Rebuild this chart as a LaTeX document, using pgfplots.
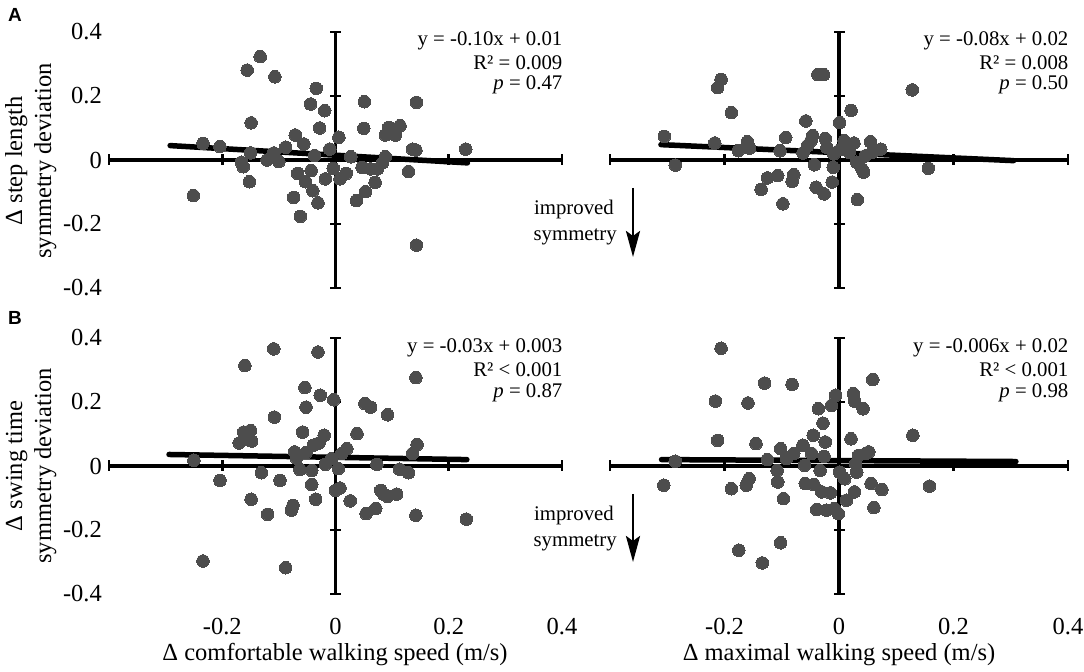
\documentclass[border=0pt]{standalone}
\usepackage{pgfplots}
\pgfplotsset{compat=1.18}
\usepackage{fontspec}
\setmainfont{Liberation Serif}
\newfontfamily\panelfont{Liberation Sans}
\usetikzlibrary{arrows.meta}
\definecolor{dotgray}{RGB}{77,77,77}
\newcommand{\ticksize}{\fontsize{24.5bp}{28bp}\selectfont}
\newcommand{\labsize}{\fontsize{24.5bp}{28bp}\selectfont}
\newcommand{\annsize}{\fontsize{20.8bp}{24bp}\selectfont}

\pgfplotstableread{
x y
-0.251 -0.111
-0.234 0.052
-0.204 0.042
-0.166 -0.007
-0.163 -0.021
-0.156 0.281
-0.152 -0.068
-0.150 0.022
-0.149 0.116
-0.133 0.323
-0.121 0.000
-0.109 0.022
-0.107 0.260
-0.100 -0.005
-0.088 0.040
-0.074 -0.117
-0.071 0.078
-0.067 -0.042
-0.062 -0.176
-0.056 0.050
-0.053 -0.068
-0.044 0.175
-0.043 -0.033
-0.040 -0.096
-0.037 0.014
-0.034 0.224
-0.031 -0.134
-0.028 0.100
-0.019 0.154
-0.018 -0.059
-0.010 0.034
-0.004 -0.026
0.006 0.071
0.008 -0.059
0.019 -0.042
0.027 0.010
0.037 -0.127
0.047 -0.023
0.050 0.099
0.051 0.182
0.053 -0.099
0.062 -0.028
0.070 -0.070
0.074 -0.028
0.083 -0.009
0.088 0.010
0.088 0.078
0.094 0.102
0.106 0.078
0.114 0.107
0.129 -0.036
0.136 0.034
0.142 0.031
0.143 0.180
0.143 -0.266
0.230 0.034
}\dataTL

\pgfplotstableread{
x y
-0.305 0.074
-0.286 -0.016
-0.217 0.053
-0.212 0.226
-0.206 0.252
-0.188 0.148
-0.176 0.029
-0.160 0.057
-0.156 0.037
-0.136 -0.092
-0.125 -0.056
-0.107 -0.049
-0.103 0.029
-0.098 -0.137
-0.093 0.070
-0.082 -0.067
-0.079 -0.046
-0.063 0.022
-0.058 0.122
-0.055 0.045
-0.049 0.060
-0.046 0.076
-0.043 -0.015
-0.040 -0.085
-0.037 0.267
-0.027 0.267
-0.026 -0.106
-0.024 0.067
-0.021 0.039
-0.012 -0.069
-0.010 -0.023
-0.009 0.019
0.001 0.117
0.003 0.034
0.009 0.060
0.010 0.040
0.018 0.024
0.021 0.155
0.026 0.053
0.031 -0.007
0.032 -0.124
0.040 -0.028
0.043 -0.038
0.046 0.013
0.055 0.057
0.058 0.024
0.073 0.034
0.128 0.219
0.156 -0.026
}\dataTR

\pgfplotstableread{
x y
-0.250 0.018
-0.234 -0.297
-0.204 -0.045
-0.170 0.072
-0.162 0.106
-0.160 0.314
-0.157 0.096
-0.150 0.111
-0.149 -0.104
-0.148 0.078
-0.131 -0.021
-0.120 -0.151
-0.109 0.366
-0.108 0.153
-0.098 -0.045
-0.088 -0.318
-0.078 -0.138
-0.075 -0.123
-0.072 0.044
-0.069 0.025
-0.063 -0.011
-0.058 0.106
-0.054 0.245
-0.052 0.184
-0.052 0.042
-0.042 -0.058
-0.042 -0.014
-0.039 0.065
-0.035 -0.104
-0.031 0.356
-0.029 0.072
-0.027 0.221
-0.020 0.096
-0.018 0.005
-0.007 0.023
-0.003 0.207
0.000 -0.076
0.005 -0.008
0.008 -0.069
0.011 0.039
0.020 0.054
0.026 -0.109
0.038 0.101
0.052 0.195
0.054 -0.149
0.062 0.184
0.071 -0.133
0.073 0.005
0.080 -0.076
0.085 -0.088
0.092 0.160
0.092 -0.095
0.108 -0.088
0.113 -0.010
0.129 -0.021
0.136 0.039
0.142 0.276
0.142 -0.154
0.144 0.067
0.231 -0.166
}\dataBL

\pgfplotstableread{
x y
-0.306 -0.060
-0.286 0.015
-0.216 0.203
-0.212 0.080
-0.206 0.368
-0.188 -0.071
-0.175 -0.263
-0.162 -0.060
-0.159 0.197
-0.157 -0.040
-0.145 0.070
-0.134 -0.303
-0.130 0.259
-0.125 0.020
-0.108 -0.014
-0.107 -0.050
-0.102 0.054
-0.102 -0.240
-0.097 -0.102
-0.092 0.023
-0.082 0.255
-0.079 0.039
-0.063 0.065
-0.060 0.002
-0.059 -0.055
-0.048 0.039
-0.045 0.096
-0.044 -0.058
-0.039 -0.136
-0.036 0.179
-0.033 -0.014
-0.030 -0.081
-0.028 0.134
-0.026 0.030
-0.024 0.075
-0.022 -0.138
-0.015 -0.084
-0.013 0.189
-0.008 -0.133
-0.006 0.221
-0.001 -0.149
0.001 -0.019
0.010 -0.040
0.013 -0.107
0.021 0.085
0.025 0.226
0.027 0.203
0.027 -0.081
0.029 0.007
0.031 -0.019
0.034 0.033
0.042 0.179
0.047 0.039
0.052 0.044
0.056 -0.055
0.059 0.270
0.061 -0.130
0.075 -0.074
0.129 0.096
0.158 -0.063
}\dataBR

\tikzset{ann/.style={anchor=base east, inner sep=0pt, font=\annsize}}
\pgfplotsset{
  panel/.style={
    scale only axis, height=256bp,
    xmin=-0.4, xmax=0.4, ymin=-0.4, ymax=0.4,
    enlargelimits=false, clip=false,
    axis lines=left, axis line style={draw=none},
    major tick length=0pt, tick style={draw=none},
    tick label style={font=\ticksize},
    xticklabel style={anchor=north, inner sep=0pt, yshift=-24bp},
    yticklabel style={anchor=east, inner sep=0pt, xshift=-7bp},
    anchor=south west,
  },
  crossaxes/.style={black, line width=3.2bp, mark size=5.5bp, mark options={solid, line width=2.8bp}},
  dots/.style={only marks, mark=*, mark size=6.3bp, mark options={fill=dotgray, draw=dotgray, line width=0pt}},
  reg/.style={black, line width=5.5bp, line cap=round},
}

\begin{document}
\begin{tikzpicture}
\path[use as bounding box] (0,0) rectangle (1084bp,672bp);

% ---------- top left ----------
\begin{axis}[panel, at={(109bp,384bp)}, width=453bp,
  xtick=\empty, ytick={-0.4,-0.2,0,0.2,0.4}, yticklabels={-0.4,-0.2,0,0.2,0.4}]
\addplot[crossaxes, mark=|] coordinates {(-0.4,0) (-0.2,0) (0.2,0) (0.4,0)};
\addplot[crossaxes, mark=-] coordinates {(0,-0.4) (0,-0.2) (0,0.2) (0,0.4)};
\addplot[reg] coordinates {(-0.292,0.045) (0.233,-0.009)};
\addplot[dots] table[x=x,y=y] {\dataTL};
\node[ann] at (axis cs:0.401,0.359) {y = -0.10x + 0.01};
\node[ann] at (axis cs:0.401,0.284) {R² = 0.009};
\node[ann] at (axis cs:0.401,0.219) {\textit{p} = 0.47};
\end{axis}

% ---------- top right ----------
\begin{axis}[panel, at={(610bp,384bp)}, width=458bp, xtick=\empty, ytick=\empty]
\addplot[crossaxes, mark=|] coordinates {(-0.4,0) (-0.2,0) (0.2,0) (0.4,0)};
\addplot[crossaxes, mark=-] coordinates {(0,-0.4) (0,-0.2) (0,0.2) (0,0.4)};
\addplot[reg] coordinates {(-0.311,0.048) (0.305,-0.002)};
\addplot[dots] table[x=x,y=y] {\dataTR};
\node[ann] at (axis cs:0.401,0.359) {y = -0.08x + 0.02};
\node[ann] at (axis cs:0.401,0.284) {R² = 0.008};
\node[ann] at (axis cs:0.401,0.219) {\textit{p} = 0.50};
\end{axis}

% ---------- bottom left ----------
\begin{axis}[panel, at={(109bp,78bp)}, width=453bp,
  xtick={-0.2,0,0.2,0.4}, xticklabels={-0.2,0,0.2,0.4},
  ytick={-0.4,-0.2,0,0.2,0.4}, yticklabels={-0.4,-0.2,0,0.2,0.4}]
\addplot[crossaxes, mark=|] coordinates {(-0.4,0) (-0.2,0) (0.2,0) (0.4,0)};
\addplot[crossaxes, mark=-] coordinates {(0,-0.4) (0,-0.2) (0,0.2) (0,0.4)};
\addplot[reg] coordinates {(-0.294,0.036) (0.232,0.020)};
\addplot[dots] table[x=x,y=y] {\dataBL};
\node[ann] at (axis cs:0.401,0.355) {y = -0.03x + 0.003};
\node[ann] at (axis cs:0.401,0.280) {R² < 0.001};
\node[ann] at (axis cs:0.401,0.215) {\textit{p} = 0.87};
\end{axis}

% ---------- bottom right ----------
\begin{axis}[panel, at={(610bp,78bp)}, width=458bp,
  xtick={-0.2,0,0.2,0.4}, xticklabels={-0.2,0,0.2,0.4}, ytick=\empty]
\addplot[crossaxes, mark=|] coordinates {(-0.4,0) (-0.2,0) (0.2,0) (0.4,0)};
\addplot[crossaxes, mark=-] coordinates {(0,-0.4) (0,-0.2) (0,0.2) (0,0.4)};
\addplot[reg] coordinates {(-0.310,0.020) (0.309,0.014)};
\addplot[dots] table[x=x,y=y] {\dataBR};
\node[ann] at (axis cs:0.401,0.355) {y = -0.006x + 0.02};
\node[ann] at (axis cs:0.401,0.280) {R² < 0.001};
\node[ann] at (axis cs:0.401,0.215) {\textit{p} = 0.98};
\end{axis}

% ---------- panel letters ----------
\node[font=\panelfont\bfseries\fontsize{19bp}{22bp}\selectfont, inner sep=0pt] at (15bp,657bp) {A};
\node[font=\panelfont\bfseries\fontsize{19bp}{22bp}\selectfont, inner sep=0pt] at (15bp,354bp) {B};

% ---------- y labels ----------
\node[rotate=90, anchor=base, inner sep=0pt, font=\labsize] at (22bp,511bp) {Δ step length};
\node[rotate=90, anchor=base, inner sep=0pt, font=\labsize] at (51bp,511bp) {symmetry deviation};
\node[rotate=90, anchor=base, inner sep=0pt, font=\labsize] at (22bp,206bp) {Δ swing time};
\node[rotate=90, anchor=base, inner sep=0pt, font=\labsize] at (51bp,206bp) {symmetry deviation};

% ---------- x labels ----------
\node[anchor=base, inner sep=0pt, font=\labsize] at (335bp,12bp) {Δ comfortable walking speed (m/s)};
\node[anchor=base, inner sep=0pt, font=\labsize] at (839bp,12bp) {Δ maximal walking speed (m/s)};

% ---------- improved symmetry ----------
\node[ann] at (614bp,457bp) {improved};
\node[ann] at (617bp,431bp) {symmetry};
\draw[line width=2.8bp, -{Stealth[length=26bp, width=14bp, inset=5bp]}] (633bp,484bp) -- (633bp,415bp);
\node[ann] at (614bp,151bp) {improved};
\node[ann] at (617bp,125bp) {symmetry};
\draw[line width=2.8bp, -{Stealth[length=26bp, width=14bp, inset=5bp]}] (633bp,178bp) -- (633bp,110bp);
\end{tikzpicture}
\end{document}
